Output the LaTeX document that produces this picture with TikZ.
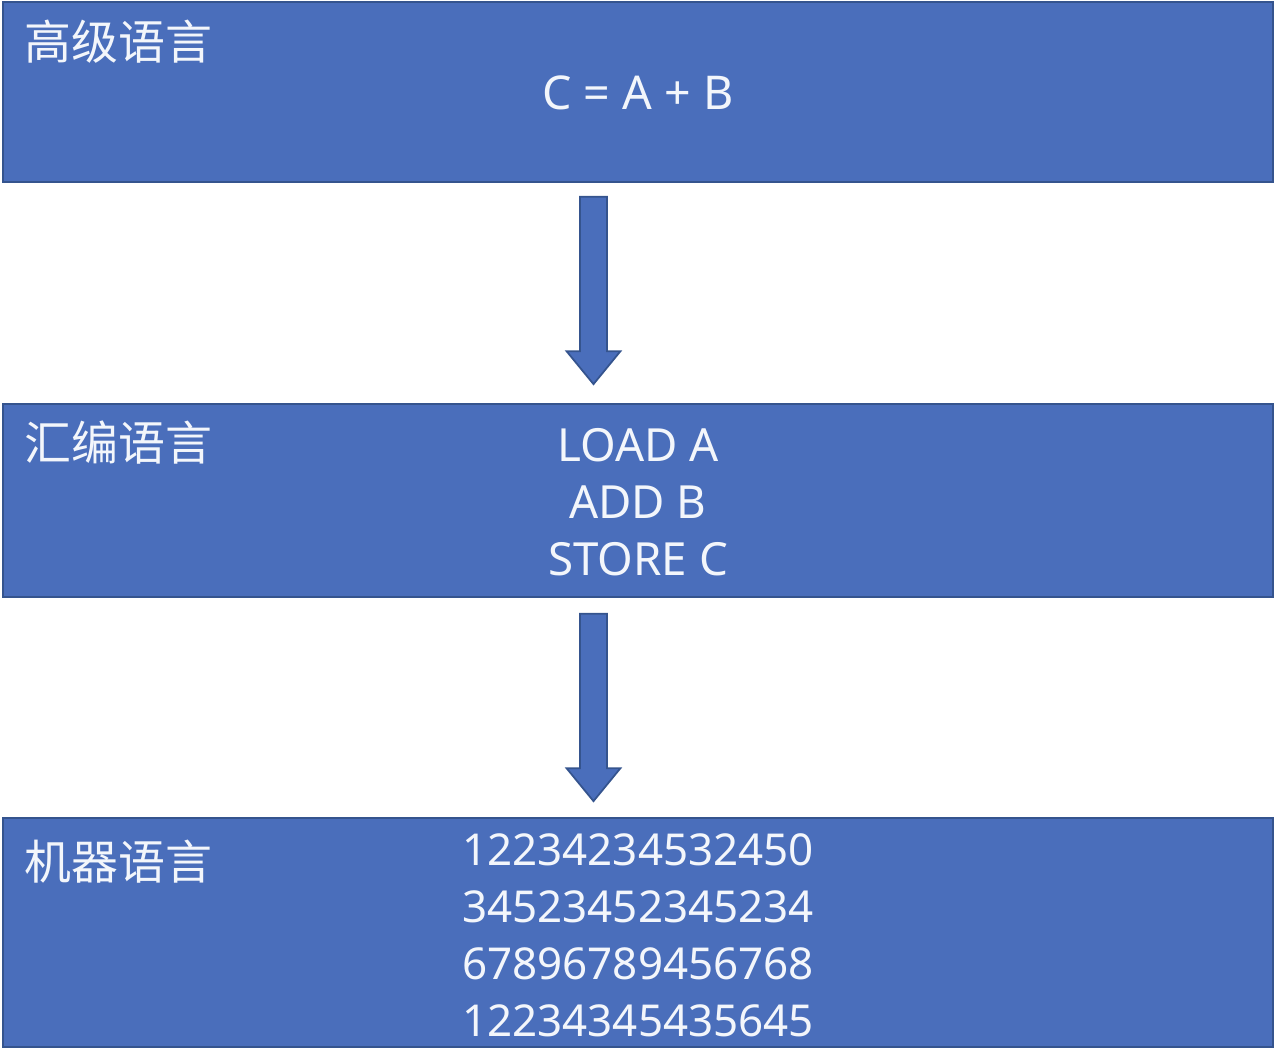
\documentclass[tikz,border=0pt]{standalone}
\usepackage{fontspec}
\setmainfont{Noto Sans}
\newfontfamily\cjk{Noto Sans CJK SC}
\usetikzlibrary{positioning,calc,math}
\definecolor{boxblue}{HTML}{4A6EBB}
\definecolor{boxedge}{HTML}{35548E}
\definecolor{textwhite}{HTML}{F3F6FB}
\tikzset{
    langbox/.style={draw=boxedge, fill=boxblue, line width=1pt, inner sep=0pt,
        minimum width=25.4cm},
    langtitle/.style={anchor=west, text=textwhite, inner sep=0pt,
        font=\cjk\fontsize{26.7}{30}\selectfont},
    langcode/.style={align=center, text=textwhite, inner sep=0pt,
        font=\fontsize{25}{32.4}\selectfont},
    blockarrow/.style={draw=boxedge, fill=boxblue, line width=1pt, line join=miter},
}
% block arrow from coordinate #1 down to coordinate #2
\newcommand{\blockarrow}[2]{%
  \draw[blockarrow] ($(#1)+(-13.5,0)$) -- ($(#1)+(13.5,0)$)
    -- ($(#2)+(13.5,-33)$) -- ($(#2)+(27,-33)$) -- (#2)
    -- ($(#2)+(-27,-33)$) -- ($(#2)+(-13.5,-33)$) -- cycle;
}

\begin{document}
\begin{tikzpicture}[
    x=0.02cm,
    y=-0.02cm,
  ]

  \useasboundingbox (0,0) rectangle (1284,1054);

  % ------
  % Boxes
  % ------

  \node[langbox, minimum height=3.6cm]  (high) at (638,92)    {};
  \node[langbox, minimum height=3.86cm] (asm)  at (638,500.5) {};
  \node[langbox, minimum height=4.58cm] (mach) at (638,932.5) {};

  % titles
  \node[langtitle] (hightitle) at (24,42)  {高级语言};
  \node[langtitle] (asmtitle)  at (24,443) {汇编语言};
  \node[langtitle] (machtitle) at (24,862) {机器语言};

  % code
  \node[langcode, font=\fontsize{26.5}{32.4}\selectfont] (highcode) at (638,93) {C = A + B};
  \node[langcode, font=\fontsize{26}{32.4}\selectfont] (asmcode) at (638,502) {LOAD A\\ADD B\\STORE C};
  \node[langcode] (machcode) at (638,935) {12234234532450\\34523452345234\\67896789456768\\12234345435645};

  % -------
  % Arrows
  % -------

  \coordinate (a1s) at ($(high.south -| 593.5,0) + (0,14)$);
  \coordinate (a1e) at ($(asm.north -| 593.5,0) + (0,-19)$);
  \coordinate (a2s) at ($(asm.south -| 593.5,0) + (0,16)$);
  \coordinate (a2e) at ($(mach.north -| 593.5,0) + (0,-16)$);

  \blockarrow{a1s}{a1e}
  \blockarrow{a2s}{a2e}

\end{tikzpicture}
\end{document}
